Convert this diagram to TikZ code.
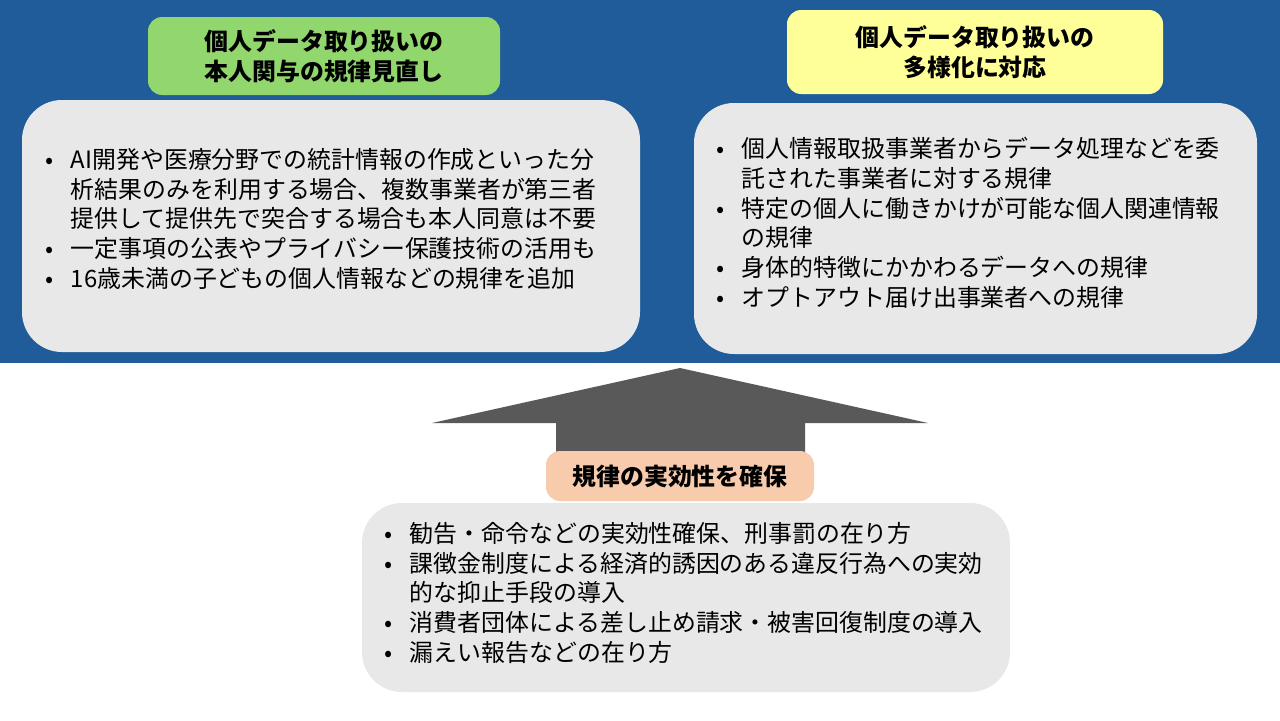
\documentclass[tikz,border=0pt]{standalone}
\usepackage{fontspec}
\setmainfont{Noto Sans CJK JP}
\usetikzlibrary{positioning}
\definecolor{bgblue}{RGB}{31,92,153}
\definecolor{hgreen}{RGB}{146,214,110}
\definecolor{hyellow}{RGB}{255,255,153}
\definecolor{hsalmon}{RGB}{248,203,173}
\definecolor{boxgray}{RGB}{232,232,232}
\definecolor{arrgray}{RGB}{89,89,89}
\newcommand{\blist}[1]{\begin{tabular}{@{}l@{\hspace{0.35cm}}l@{}}#1\end{tabular}}

\begin{document}
\begin{tikzpicture}[
    x=0.02cm, y=-0.02cm,
    txt/.style={font=\fontsize{13.6}{17}\selectfont, align=left, inner sep=0pt},
    head/.style={rounded corners=8pt, align=center, inner sep=0pt,
                 font=\fontsize{13.6}{17}\selectfont\bfseries},
    panel/.style={fill=boxgray, rounded corners=0.8cm}
]
\useasboundingbox (0,0) rectangle (1280,720);
\fill[white] (0,0) rectangle (1280,720);
\fill[bgblue] (0,0) rectangle (1280,363);

% headings
\fill[head, fill=hgreen] (148,17) rectangle (500,95);
\node[head] (hleft) at (324,56) {個人データ取り扱いの\\本人関与の規律見直し};
\fill[head, fill=hyellow] (787,10) rectangle (1163,94);
\node[head] (hright) at (975,52) {個人データ取り扱いの\\多様化に対応};

% panels
\fill[panel] (22,100) rectangle (640,352);
\node[txt, anchor=west] (pleft) at (45,222) {\blist{%
 • & AI開発や医療分野での統計情報の作成といった分\\
   & 析結果のみを利用する場合、複数事業者が第三者\\
   & 提供して提供先で突合する場合も本人同意は不要\\
 • & 一定事項の公表やプライバシー保護技術の活用も\\
 • & 16歳未満の子どもの個人情報などの規律を追加}};
\fill[panel] (694,103) rectangle (1257,354);
\node[txt, anchor=west] (pright) at (716,226) {\blist{%
 • & 個人情報取扱事業者からデータ処理などを委\\
   & 託された事業者に対する規律\\
 • & 特定の個人に働きかけが可能な個人関連情報\\
   & の規律\\
 • & 身体的特徴にかかわるデータへの規律\\
 • & オプトアウト届け出事業者への規律}};

% arrow
\coordinate (tip) at (680,368);
\fill[arrgray] (tip) -- (928,423) -- (805,423) -- (805,455)
  -- (556,455) -- (556,423) -- (432,423) -- cycle;

% bottom
\fill[head, fill=hsalmon] (546,451) rectangle (814,501);
\node[head] (hbottom) at (680,476) {規律の実効性を確保};
\fill[panel] (362,503) rectangle (1010,692);
\node[txt, anchor=west] (pbottom) at (384,596) {\blist{%
 • & 勧告・命令などの実効性確保、刑事罰の在り方\\
 • & 課徴金制度による経済的誘因のある違反行為への実効\\
   & 的な抑止手段の導入\\
 • & 消費者団体による差し止め請求・被害回復制度の導入\\
 • & 漏えい報告などの在り方}};
\end{tikzpicture}
\end{document}
